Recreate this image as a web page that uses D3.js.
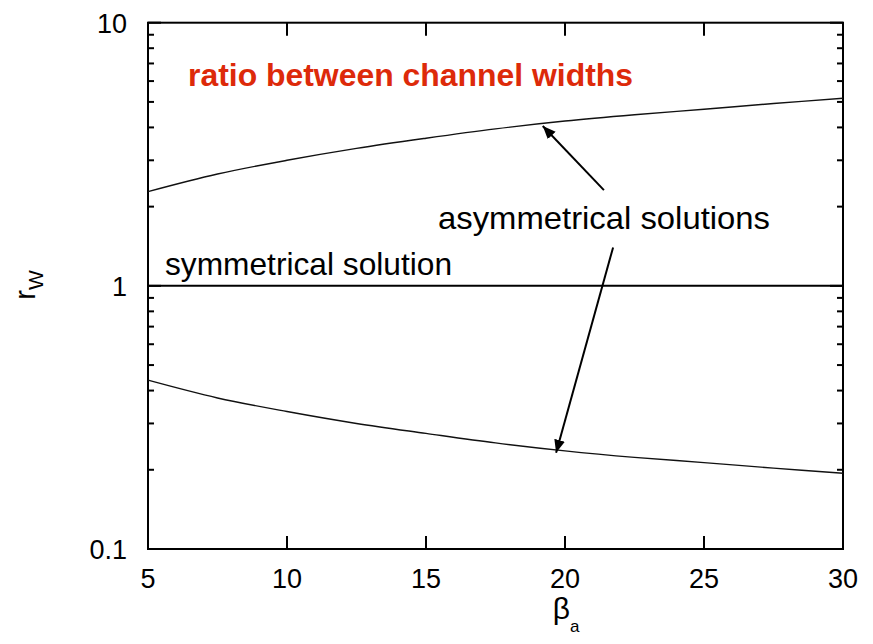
<!DOCTYPE html>
<html><head><meta charset="utf-8">
<script src="https://cdn.jsdelivr.net/npm/d3@7"></script>
<style>body{margin:0;background:#fff}svg{display:block}text{font-family:"Liberation Sans",Arial,sans-serif}</style>
</head><body>
<script>
const betaA = [5, 7.5, 10, 12.5, 15, 17.5, 20, 22.5, 25, 27.5, 30];
const upperRw = [2.28, 2.66, 3.0, 3.33, 3.64, 3.95, 4.23, 4.47, 4.69, 4.93, 5.16];
const lowerRw = [0.438, 0.375, 0.333, 0.300, 0.275, 0.253, 0.236, 0.223, 0.213, 0.203, 0.194];
const symmetricRw = [1, 1];
const symmetricX = [5, 30];
const xTicks = [5, 10, 15, 20, 25, 30];
const yTickLabels = [0.1, 1, 10];

const W = 873, H = 644;
const L = 148, R = 843, T = 22.7, B = 549;
const svg = d3.select("body").append("svg").attr("width", W).attr("height", H);
const x = d3.scaleLinear().domain([5, 30]).range([L, R]);
const y = d3.scaleLog().domain([0.1, 10]).range([B, T]);

// minor & major ticks
const minor = [];
[0.1, 1].forEach(d => { for (let k = 2; k <= 9; k++) minor.push(d * k); });
const tk = svg.append("g").attr("stroke", "#000").attr("stroke-width", 2);
minor.forEach(v => {
  tk.append("line").attr("x1", L).attr("x2", L + 6).attr("y1", y(v)).attr("y2", y(v));
  tk.append("line").attr("x1", R).attr("x2", R - 6).attr("y1", y(v)).attr("y2", y(v));
});
yTickLabels.forEach(v => {
  tk.append("line").attr("x1", L).attr("x2", L + 13).attr("y1", y(v)).attr("y2", y(v));
  tk.append("line").attr("x1", R).attr("x2", R - 13).attr("y1", y(v)).attr("y2", y(v));
});
xTicks.forEach(v => {
  tk.append("line").attr("x1", x(v)).attr("x2", x(v)).attr("y1", B).attr("y2", B - 13);
  tk.append("line").attr("x1", x(v)).attr("x2", x(v)).attr("y1", T).attr("y2", T + 13);
});

// frame
svg.append("rect").attr("x", L).attr("y", T).attr("width", R - L).attr("height", B - T)
  .attr("fill", "none").attr("stroke", "#000").attr("stroke-width", 2);

// tick labels
svg.append("g").selectAll("text").data(xTicks).join("text")
  .attr("x", d => x(d)).attr("y", 588).attr("text-anchor", "middle")
  .attr("font-size", 27).text(d => d);
svg.append("g").selectAll("text").data(yTickLabels).join("text")
  .attr("x", 127).attr("y", d => y(d) + 10).attr("text-anchor", "end")
  .attr("font-size", 27).text(d => d);

// curves
const line = d3.line().x(d => x(d[0])).y(d => y(d[1])).curve(d3.curveCatmullRom);
svg.append("path").datum(betaA.map((b, i) => [b, upperRw[i]])).attr("d", line)
  .attr("fill", "none").attr("stroke", "#111").attr("stroke-width", 1.4);
svg.append("path").datum(betaA.map((b, i) => [b, lowerRw[i]])).attr("d", line)
  .attr("fill", "none").attr("stroke", "#111").attr("stroke-width", 1.4);
svg.append("path").datum(symmetricX.map((b, i) => [b, symmetricRw[i]])).attr("d", line)
  .attr("fill", "none").attr("stroke", "#000").attr("stroke-width", 2);

// arrows
svg.append("defs").append("marker").attr("id", "ah").attr("viewBox", "0 0 12 10")
  .attr("refX", 12).attr("refY", 5).attr("markerWidth", 13).attr("markerHeight", 11)
  .attr("markerUnits", "userSpaceOnUse").attr("orient", "auto")
  .append("path").attr("d", "M0,0 L12,5 L0,10 Z").attr("fill", "#000");
const arrows = [
  { x1: 21.4, y1: 2.31, x2: 19.2, y2: 4.05 },
  { x1: 21.73, y1: 1.40, x2: 19.68, y2: 0.232 }
];
arrows.forEach(a => svg.append("line")
  .attr("x1", x(a.x1)).attr("y1", y(a.y1)).attr("x2", x(a.x2)).attr("y2", y(a.y2))
  .attr("stroke", "#000").attr("stroke-width", 2).attr("marker-end", "url(#ah)"));

// annotations
svg.append("text").attr("x", 188).attr("y", 86).attr("font-size", 32).attr("font-weight", "bold")
  .attr("fill", "#dd2a0a").attr("textLength", 445).attr("lengthAdjust", "spacingAndGlyphs")
  .text("ratio between channel widths");
svg.append("text").attr("x", 165).attr("y", 275).attr("font-size", 32)
  .attr("textLength", 287).attr("lengthAdjust", "spacingAndGlyphs").text("symmetrical solution");
svg.append("text").attr("x", 438).attr("y", 229).attr("font-size", 32)
  .attr("textLength", 332).attr("lengthAdjust", "spacingAndGlyphs").text("asymmetrical solutions");

// axis titles
const yl = svg.append("text").attr("transform", "translate(35,285) rotate(-90)")
  .attr("text-anchor", "middle").attr("font-size", 29);
yl.append("tspan").text("r");
yl.append("tspan").attr("font-size", 21).attr("dy", 8).text("W");
const xl = svg.append("text").attr("x", 566).attr("y", 619).attr("text-anchor", "middle").attr("font-size", 30);
xl.append("tspan").text("β");
xl.append("tspan").attr("font-size", 17).attr("dy", 13).text("a");
</script>
</body></html>
